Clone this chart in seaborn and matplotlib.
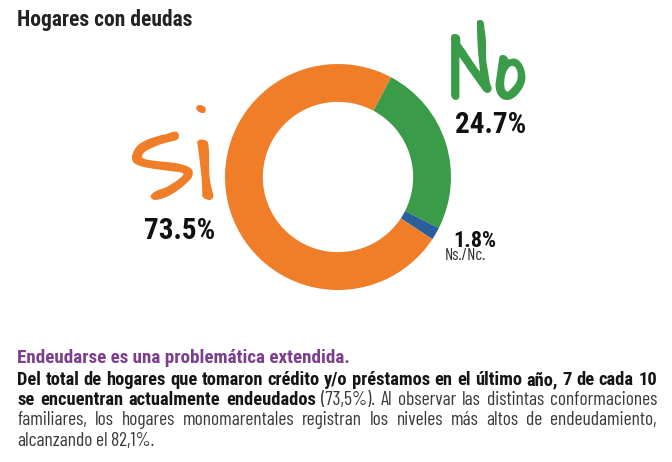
import matplotlib
matplotlib.use("Agg")
import matplotlib.pyplot as plt
import seaborn as sns

sns.set_style("white")
plt.rcParams['font.family'] = ['Roboto Condensed', 'Archivo Narrow', 'DejaVu Sans']
hand = ['Covered By Your Grace', 'Kalam', 'DejaVu Sans']
light = ['Barlow Condensed', 'Fira Sans Extra Condensed', 'Roboto Condensed', 'DejaVu Sans']

# Data
labels = ["No", "Ns./Nc.", "Si"]
values = [24.7, 1.8, 73.5]
colors = ["#3a9b48", "#2a5f9c", "#f07e29"]

title = "Hogares con deudas"
lead = "Endeudarse es una problemática extendida."
body = [
    [("Del total de hogares que tomaron crédito y/o préstamos en el último año, 7 de cada 10", "bold")],
    [("se encuentran actualmente endeudados", "bold"),
     ("(73,5%). Al observar las distintas conformaciones", "light")],
    [("familiares, los hogares monomarentales registran los niveles más altos de endeudamiento,", "light")],
    [("alcanzando el 82,1%.", "light")],
]

W, H = 672, 462
fig = plt.figure(figsize=(W / 100, H / 100), dpi=100)


def fx(x):
    return x / W


def fy(y):
    return 1 - y / H


# Donut
ax = fig.add_axes([225 / W, 172 / H, 226 / W, 226 / H])
ax.pie(values, colors=colors, startangle=62, counterclock=False,
       wedgeprops=dict(width=0.335, edgecolor="none"))
ax.set_xlim(-1, 1)
ax.set_ylim(-1, 1)
ax.axis("off")

# Title
fig.text(fx(17), fy(26), title, fontsize=15.5, fontweight="bold",
         color="#222222", va="baseline", ha="left")

# Big handwritten-like labels
fig.text(fx(172), fy(200), labels[2], fontsize=88, color=colors[2],
         family=hand, ha="center", va="baseline")
fig.text(fx(488), fy(100), labels[0], fontsize=76, color=colors[0],
         family=hand, ha="center", va="baseline")

# Percentages
fig.text(fx(180), fy(239), f"{values[2]}%", fontsize=21, fontweight="bold",
         color="#111111", ha="center", va="baseline")
fig.text(fx(491), fy(133), f"{values[0]}%", fontsize=21, fontweight="bold",
         color="#111111", ha="center", va="baseline")
fig.text(fx(475), fy(247), f"{values[1]}%", fontsize=16, fontweight="bold",
         color="#111111", ha="center", va="baseline")
fig.text(fx(465), fy(260.5), labels[1], fontsize=12, color="#333333",
         family=light, ha="center", va="baseline")

# Bottom paragraph (justified)
fig.text(fx(17), fy(363), lead, fontsize=13.7, fontweight="bold",
         color="#7b3f8e", ha="left", va="baseline")

renderer = fig.canvas.get_renderer()
left, right = 17, 657
baselines = [385, 405, 425, 446]
for i, (parts, y) in enumerate(zip(body, baselines)):
    words = []
    for text, style in parts:
        for w in text.split(" "):
            words.append((w, style))
    arts = []
    total = 0
    for w, style in words:
        if style == "bold":
            t = fig.text(0, fy(y), w, fontsize=13.3, fontweight="bold",
                         color="#151515", ha="left", va="baseline")
        else:
            t = fig.text(0, fy(y), w, fontsize=14, fontweight="normal",
                         family=light, color="#3a3a3a", ha="left", va="baseline")
        wd = t.get_window_extent(renderer).width
        arts.append((t, wd))
        total += wd
    if i < len(body) - 1:
        gap = (right - left - total) / (len(words) - 1)
    else:
        gap = 3.5
    x = left
    for t, wd in arts:
        t.set_x(fx(x))
        x += wd + gap

fig.savefig("out.png", dpi=100)
